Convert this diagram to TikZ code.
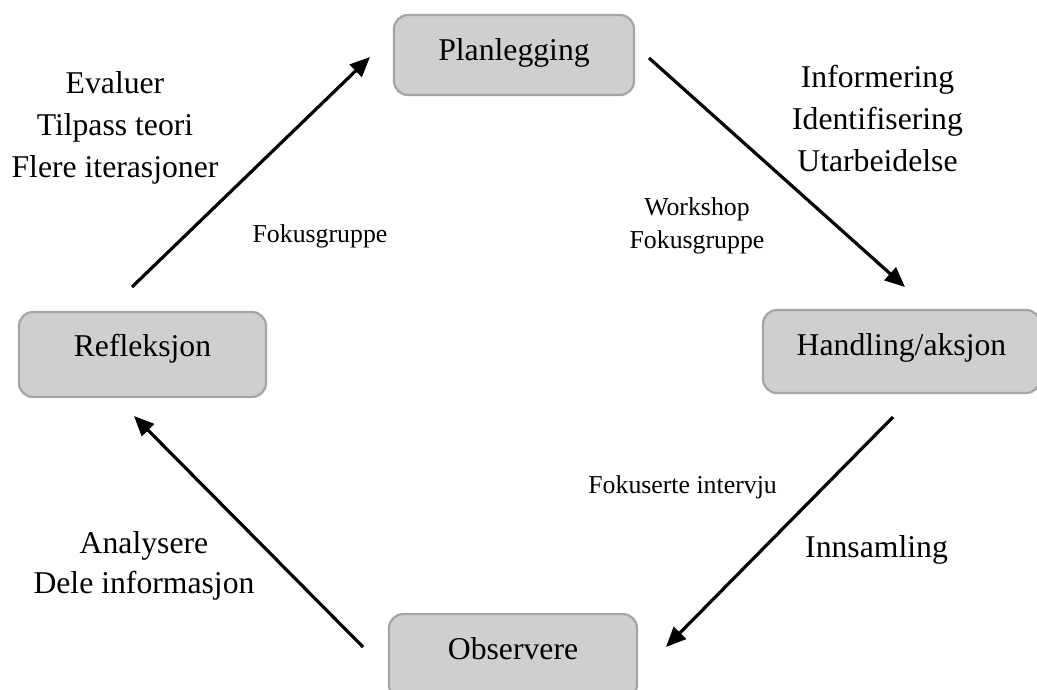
\documentclass[tikz,border=0pt]{standalone}
\usepackage{fontspec}
\setmainfont{Liberation Serif}
\usetikzlibrary{arrows.meta}
\definecolor{boxfill}{RGB}{208,206,208}
\definecolor{boxline}{RGB}{165,165,165}
\begin{document}
\begin{tikzpicture}[x=1pt,y=-1pt,
  stage/.style={draw=boxline, fill=boxfill, line width=2.2pt, rounded corners=14pt,
    inner sep=0pt, text height=22pt, font=\fontsize{31.7}{38}\selectfont},
  big/.style={font=\fontsize{31.7}{42.5}\selectfont, align=center, inner sep=0pt},
  small/.style={font=\fontsize{25.8}{33}\selectfont, align=center, inner sep=0pt},
  flow/.style={line width=3.2pt, -{Triangle[length=20pt,width=17pt]}}
]
\useasboundingbox (0,0) rectangle (1037,690);

\node[stage, minimum width=240pt, minimum height=80pt, text depth=10pt] (plan) at (514,55) {Planlegging};
\node[stage, minimum width=247pt, minimum height=85pt, text depth=18pt] (refl) at (142.5,354.5) {Refleksjon};
\node[stage, minimum width=277pt, minimum height=83pt, text depth=15pt] (hand) at (901.5,351.5) {Handling/aksjon};
\node[stage, anchor=north, minimum width=248pt, minimum height=85pt, text depth=17pt] (obs) at (513,613) {Observere};

\coordinate (a1s) at (132,287); \coordinate (a1e) at (370,57);
\coordinate (a2s) at (649,58);  \coordinate (a2e) at (905,287);
\coordinate (a3s) at (893,417); \coordinate (a3e) at (666,647);
\coordinate (a4s) at (363,647); \coordinate (a4e) at (134,416);

\draw[flow] (a1s) -- (a1e);
\draw[flow] (a2s) -- (a2e);
\draw[flow] (a3s) -- (a3e);
\draw[flow] (a4s) -- (a4e);

% anchor=base of a multi-line node is the baseline of its last line
\node[big, anchor=base] (lab1) at (115,178) {Evaluer\\Tilpass teori\\Flere iterasjoner};
\node[small, anchor=base] (lab2) at (320,242) {Fokusgruppe};
\node[big, anchor=base] (lab3) at (877.5,172) {Informering\\Identifisering\\Utarbeidelse};
\node[small, anchor=base] (lab4) at (697,248) {Workshop\\Fokusgruppe};
\node[small, anchor=base east] (lab5) at (777,493) {Fokuserte intervju};
\node[big, anchor=base west] (lab6) at (805,557) {Innsamling};
\node[big, anchor=base, font=\fontsize{31.7}{40}\selectfont] (lab7) at (144,593) {Analysere\\Dele informasjon};
\end{tikzpicture}
\end{document}
